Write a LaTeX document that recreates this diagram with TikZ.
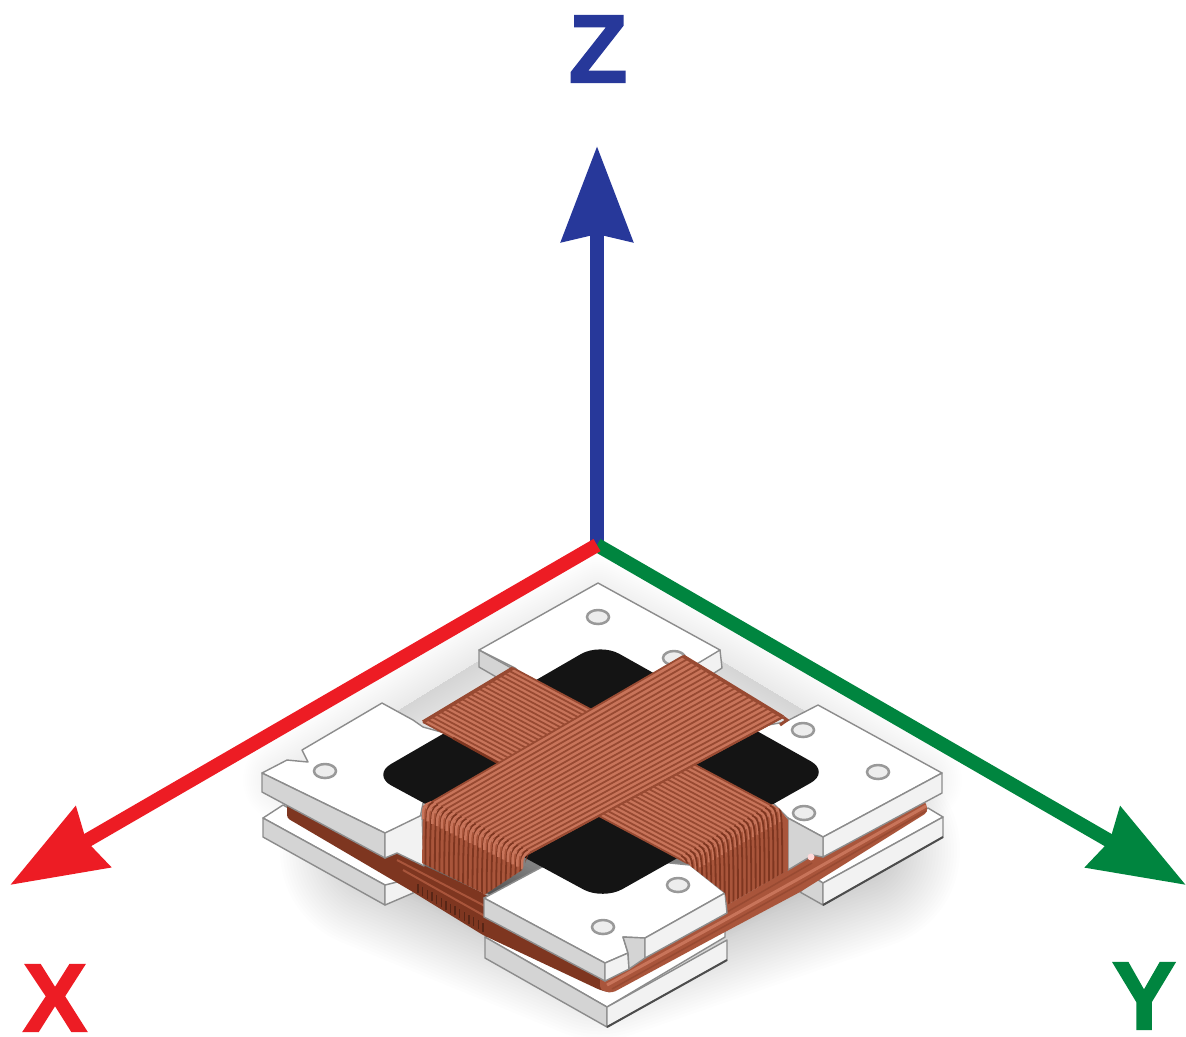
\documentclass[tikz,border=0pt]{standalone}
\usepackage{fontspec}
\setmainfont{Liberation Sans}[BoldFeatures={FakeBold=1.6}]
\usetikzlibrary{calc,arrows.meta}
\definecolor{axx}{HTML}{ED1C24}
\definecolor{axy}{HTML}{00853F}
\definecolor{axz}{HTML}{27389A}
\definecolor{edge}{HTML}{8C8C8C}
\definecolor{cu}{HTML}{C8745A}
\definecolor{cud}{HTML}{984A32}
\definecolor{cum}{HTML}{A9553B}
\definecolor{cub}{HTML}{7E3620}
\definecolor{hole}{HTML}{141414}
\tikzset{
  plate/.style={fill=white,draw=edge,line width=0.014cm,line join=round},
  lface/.style={fill=black!17,draw=edge,line width=0.014cm,line join=round},
  rface/.style={fill=black!5,draw=edge,line width=0.014cm,line join=round},
  boltpad/.style={fill=black!7,draw=black!40,line width=0.025cm},
  axisline/.style={line width=0.14cm,-{Stealth[length=0.95cm,width=0.68cm,inset=0.07cm]}},
  axislabel/.style={font=\fontsize{27.5}{30}\selectfont\bfseries,inner sep=0pt}
}
\newcommand\ribset[6]{% P1 P2 Q1 Q2 n colour
  \foreach \ri in {0,...,#5}{
    \pgfmathsetmacro\rt{\ri/#5}
    \draw[#6,line width=0.018cm] ($(#1)!\rt!(#2)$) -- ($(#3)!\rt!(#4)$);
  }}
\newcommand\foldribs[5]{% F1 F2 dx n len
  \foreach \ri in {0,...,#4}{
    \pgfmathsetmacro\rt{\ri/#4}
    \pgfmathsetmacro\rs{(\ri+0.5)/#4}
    \draw[cu,line width=0.025cm] ($(#1)!\rt!(#2)+(#3,-6)$) .. controls ($(#1)!\rt!(#2)+(0,-2)$) and ($(#1)!\rt!(#2)+(0,2)$) .. ($(#1)!\rt!(#2)+(0,12)$);
    \draw[cub,line width=0.018cm] ($(#1)!\rs!(#2)+(#3,-6)$) .. controls ($(#1)!\rs!(#2)+(0,-2)$) and ($(#1)!\rs!(#2)+(0,2)$) .. ($(#1)!\rs!(#2)+(0,#5)$);
  }}
\begin{document}
\begin{tikzpicture}[x=0.01cm,y=-0.01cm]
\useasboundingbox (0,0) rectangle (1186,1036);
\fill[white] (0,0) rectangle (1186,1036);
% soft shadows
\foreach \w in {200,194,...,8}{
  \draw[black,line width=\w*0.01cm,line join=round,opacity=0.008,fill=black]
    (380,850) -- (600,940) -- (860,850) -- (600,800) -- cycle;
}
\foreach \w in {84,80,...,4}{
  \draw[black,line width=\w*0.01cm,line join=round,opacity=0.004,fill=black]
    (285,780) -- (480,660) -- (598,600) -- (720,660) -- (920,780) -- (607,960) -- cycle;
}
% lower plates
\draw[plate] (263,818) -- (283,805) -- (385,860) -- (413,893) -- (385,885) -- cycle;
\draw[lface] (263,818) -- (385,885) -- (385,905) -- (263,837) -- cycle;
\draw[rface] (385,885) -- (413,878) -- (413,893) -- (385,905) -- cycle;
\draw[plate] (943,817) -- (928,808) -- (815,878) -- (823,883) -- cycle;
\draw[lface] (800,892) -- (815,878) -- (823,883) -- (823,905) -- cycle;
\draw[rface] (823,883) -- (943,817) -- (943,837) -- (823,905) -- cycle;
\draw[black!70,line width=0.02cm] (823,905) -- (943,837);
\draw[plate] (485,937) -- (500,930) -- (607,985) -- (725,925) -- (725,937) -- (607,1007) -- cycle;
\draw[lface] (485,937) -- (607,1007) -- (607,1027) -- (485,958) -- cycle;
\draw[rface] (607,1007) -- (727,940) -- (727,960) -- (607,1027) -- cycle;
\draw[black!70,line width=0.02cm] (607,1027) -- (727,960);
% flat wire bands
\fill[cub,rounded corners=0.03cm] (287,798) -- (397,853) -- (483,893) -- (600,975) -- (612,985) -- (612,993) -- (600,990) -- (483,935) -- (413,892) -- (287,818) -- cycle;
\fill[cum,rounded corners=0.04cm] (600,975) -- (727,905) -- (788,870) -- (815,855) -- (925,800) -- (928,812) -- (800,892) -- (723,933) -- (612,993) -- (600,990) -- cycle;
\draw[cu,line width=0.03cm] (607,985) -- (723,921) -- (800,878) -- (926,806);
\draw[cud,line width=0.015cm] (612,989) -- (723,927) -- (800,884) -- (926,811);
\draw[cud,line width=0.015cm] (727,912) -- (812,863);
\draw[cum,line width=0.02cm] (397,860) -- (483,905) -- (540,937);
\draw[cum,line width=0.02cm] (403,870) -- (483,915) -- (525,938);
\foreach \ri in {0,...,14}{
  \pgfmathsetmacro\rt{\ri/14}
  \draw[cub!70!black,line width=0.014cm] ($(418,893)!\rt!(483,932)$) -- ++(0,-9);
}
% upper plates
\draw[plate] (262,773) -- (287,760) -- (308,762) -- (302,750) -- (382,703) -- (413,720) -- (423,727) -- (470,740) -- (470,790) -- (423,803) -- (420,818) -- (385,833) -- cycle;
\draw[lface] (262,773) -- (385,833) -- (385,858) -- (262,792) -- cycle;
\draw[rface] (385,833) -- (422,815) -- (424,866) -- (397,853) -- (385,858) -- cycle;
\draw[plate] (479,650) -- (598,583) -- (720,650) -- (690,690) -- (540,690) -- (515,668) -- cycle;
\draw[lface] (479,650) -- (515,670) -- (505,682) -- (479,667) -- cycle;
\draw[rface] (695,665) -- (720,650) -- (722,668) -- (700,682) -- cycle;
\draw[plate] (818,705) -- (942,773) -- (823,837) -- (788,818) -- (770,800) -- (740,730) -- (785,722) -- cycle;
\draw[rface] (823,837) -- (942,773) -- (942,793) -- (823,857) -- cycle;
\draw[lface] (788,818) -- (823,837) -- (823,857) -- (813,855) -- (788,870) -- cycle;
\fill[white!85!red] (811,857) circle[radius=3.5];
\draw[plate] (484,898) -- (555,860) -- (640,860) -- (690,865) -- (725,893) -- (645,938) -- (623,937) -- (628,953) -- (605,963) -- cycle;
\draw[lface] (484,898) -- (605,963) -- (605,981) -- (484,917) -- cycle;
\draw[rface] (605,963) -- (628,953) -- (629,969) -- (605,981) -- cycle;
\draw[lface] (623,937) -- (645,938) -- (645,958) -- (629,969) -- (628,953) -- cycle;
\draw[rface] (645,938) -- (725,893) -- (727,913) -- (645,958) -- cycle;
% bolt holes
\foreach \hx/\hy in {325/771,598/617,674/658,803/730,878/772,804/813,678/885,603/927}{
  \draw[boltpad] (\hx,\hy) ellipse[x radius=11,y radius=7];
}
% central opening
\fill[hole,rounded corners=0.22cm] (600,643) -- (830,772) -- (603,900) -- (372,775) -- cycle;
% strap B (lower, runs to the front right)
\coordinate (b1) at (513,668);
\coordinate (b2) at (423,722);
\coordinate (b3) at (780,810);
\coordinate (b4) at (687,863);
\fill[cu] (b1) -- (b3) -- (b4) -- (b2) -- cycle;
\ribset{b1}{b2}{b3}{b4}{21}{cud}
\draw[cud,line width=0.035cm] (b2) -- (b1);
\draw[cub,line width=0.025cm] (453,738) -- (500,764);
% face of strap B
\fill[cum] (687,863) -- (780,810) -- (788,820) -- (788,870) -- (727,905) -- (725,893) -- cycle;
\begin{scope}
  \clip (679,857) -- (772,804) -- (788,815) -- (788,870) -- (727,905) -- (725,893) -- cycle;
  \foldribs{b4}{b3}{-8}{21}{75}
\end{scope}
% strap A (upper)
\coordinate (a1) at (423,807);
\coordinate (a2) at (522,857);
\coordinate (a3) at (683,656);
\coordinate (a4) at (783,717);
\fill[cu] (a1) -- (a3) -- (a4) -- (a2) -- cycle;
\ribset{a1}{a2}{a3}{a4}{21}{cud}
\draw[cud,line width=0.035cm] (a3) -- (a4);
\draw[cud,line width=0.03cm] (a4) -- ++(4,3) -- ++(-7,5);
\draw[cud,line width=0.02cm] (a2) -- (a4);
\fill[cum] (a1) -- (a2) -- (522,870) -- (484,895) -- (483,893) -- (422,863) -- cycle;
\begin{scope}
  \clip (431,801) -- (530,851) -- (522,870) -- (484,895) -- (483,893) -- (422,863) -- (422,805) -- cycle;
  \foldribs{a1}{a2}{8}{21}{90}
\end{scope}
% axes
\coordinate (origin) at (597,545);
\coordinate (ztip) at (597,146);
\coordinate (xtip) at (10,885);
\coordinate (ytip) at (1186,885);
\draw[axisline,axz,-{Stealth[length=0.95cm,width=0.7cm,inset=0.07cm]}] (origin) -- (ztip);
\draw[axisline,axy] (origin) -- (ytip);
\draw[axisline,axx] (origin) -- (xtip);
\node[axislabel,axz] (zlabel) at (598,49) {Z};
\node[axislabel,axx] (xlabel) at (55,998) {X};
\node[axislabel,axy] (ylabel) at (1144,996) {Y};
\end{tikzpicture}
\end{document}
